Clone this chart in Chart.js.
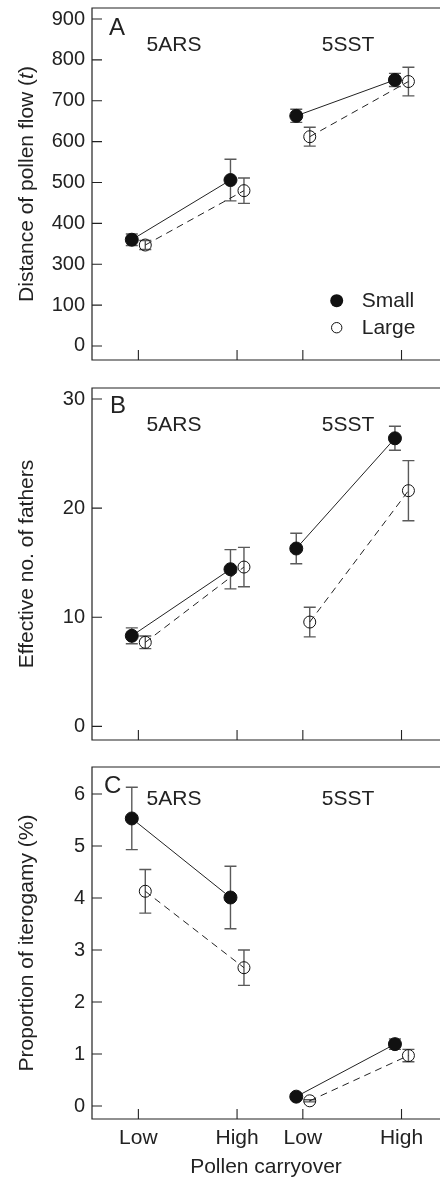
<!DOCTYPE html>
<html><head><meta charset="utf-8">
<script src="https://cdn.jsdelivr.net/npm/chart.js@4"></script>
<style>
html,body{margin:0;padding:0;background:#fff;overflow:hidden;width:440px;height:1178px}
canvas{position:absolute;left:0;display:block}
</style></head><body>
<canvas id="cA" width="440" height="380" style="top:0"></canvas>
<canvas id="cB" width="440" height="380" style="top:380px"></canvas>
<canvas id="cC" width="440" height="419" style="top:759px"></canvas>
<script>
// ---------- data ----------
const categories = ['Low', 'High', 'Low', 'High'];
const categoryGroup = [0, 0, 1, 1];
const groupNames = ['5ARS', '5SST'];
const seriesNames = ['Small', 'Large'];
const xAxisTitle = 'Pollen carryover';

const distSmall = [360, 506, 663, 751];
const distSmallErr = [14, 51, 16, 16];
const distLarge = [347, 480, 612, 747];
const distLargeErr = [11, 31, 23, 35];
const distTicks = [100, 200, 300, 400, 500, 600, 700, 800, 900];
const distTickLabels = ['0', '100', '300', '400', '500', '600', '700', '800', '900'];

const fathersSmall = [8.3, 14.4, 16.3, 26.4];
const fathersSmallErr = [0.73, 1.8, 1.4, 1.1];
const fathersLarge = [7.7, 14.6, 9.56, 21.6];
const fathersLargeErr = [0.58, 1.8, 1.36, 2.75];
const fathersTicks = [0, 10, 20, 30];
const fathersTickLabels = ['0', '10', '20', '30'];

const iteroSmall = [5.53, 4.01, 0.18, 1.19];
const iteroSmallErr = [0.6, 0.6, 0.04, 0.1];
const iteroLarge = [4.13, 2.66, 0.10, 0.97];
const iteroLargeErr = [0.42, 0.34, 0.02, 0.12];
const iteroTicks = [0, 1, 2, 3, 4, 5, 6];
const iteroTickLabels = ['0', '1', '2', '3', '4', '5', '6'];

// ---------- layout / style ----------
const FONT = '"Liberation Sans", Arial, Helvetica, sans-serif';
const INK = '#222';
Chart.defaults.font.family = FONT;
const catX = [0, 3, 5, 8];          // category slots on the x axis
const offSmall = -0.2, offLarge = 0.21;

function buildPoints(vals, errs, off) {
  const pts = [], e = [];
  vals.forEach((v, i) => {
    if (i > 0 && categoryGroup[i] !== categoryGroup[i - 1]) {
      pts.push({x: (catX[i - 1] + catX[i]) / 2, y: null}); e.push(null);
    }
    pts.push({x: catX[i] + off, y: v}); e.push(errs[i]);
  });
  return {pts, e};
}

const errorBars = {
  id: 'errorBars',
  beforeDatasetsDraw(chart) {
    const ctx = chart.ctx, ys = chart.scales.y;
    ctx.save();
    ctx.strokeStyle = '#5a5a5a';
    ctx.lineWidth = 1.4;
    chart.data.datasets.forEach((ds, di) => {
      const meta = chart.getDatasetMeta(di);
      ds.errors.forEach((er, i) => {
        if (er == null) return;
        const el = meta.data[i];
        const v = ds.data[i].y;
        const yt = ys.getPixelForValue(v + er), yb = ys.getPixelForValue(v - er);
        const x = el.x, c = 6;
        ctx.beginPath();
        ctx.moveTo(x, yt); ctx.lineTo(x, yb);
        ctx.moveTo(x - c, yt); ctx.lineTo(x + c, yt);
        ctx.moveTo(x - c, yb); ctx.lineTo(x + c, yb);
        ctx.stroke();
      });
    });
    ctx.restore();
  }
};

const decor = {
  id: 'decor',
  afterDraw(chart, args, o) {
    const ctx = chart.ctx, a = chart.chartArea, xs = chart.scales.x, ys = chart.scales.y;
    ctx.save();
    // frame (top, left, bottom)
    ctx.strokeStyle = INK; ctx.lineWidth = 1.2;
    ctx.beginPath();
    ctx.moveTo(a.right + 2, a.top); ctx.lineTo(a.left, a.top);
    ctx.lineTo(a.left, a.bottom); ctx.lineTo(a.right + 2, a.bottom);
    ctx.stroke();
    // inward ticks
    ctx.lineWidth = 1.1;
    ctx.beginPath();
    o.yTicks.forEach(v => { const y = ys.getPixelForValue(v); ctx.moveTo(a.left, y); ctx.lineTo(a.left + 10, y); });
    catX.forEach(v => { const x = xs.getPixelForValue(v); ctx.moveTo(x, a.bottom); ctx.lineTo(x, a.bottom - 10); });
    ctx.stroke();
    ctx.fillStyle = INK;
    // panel letter
    ctx.font = '24px ' + FONT; ctx.textBaseline = 'middle'; ctx.textAlign = 'left';
    ctx.fillText(o.letter, a.left + o.letterDx, a.top + o.letterDy);
    // group labels
    ctx.font = '21px ' + FONT; ctx.textAlign = 'center';
    ctx.fillText(groupNames[0], a.left + 82, a.top + o.groupDy);
    ctx.fillText(groupNames[1], a.left + 256, a.top + o.groupDy);
    // y title with styled segments
    ctx.save();
    ctx.translate(27, (a.top + a.bottom) / 2);
    ctx.rotate(-Math.PI / 2);
    let total = 0;
    o.yTitle.forEach(s => { ctx.font = s[1] + ' 21px ' + FONT; total += ctx.measureText(s[0]).width; });
    let x = -total / 2;
    ctx.textAlign = 'left';
    o.yTitle.forEach(s => { ctx.font = s[1] + ' 21px ' + FONT; ctx.fillText(s[0], x, 0); x += ctx.measureText(s[0]).width; });
    ctx.restore();
    // legend
    if (o.legend) {
      ctx.fillStyle = '#111';
      ctx.beginPath(); ctx.arc(a.left + 244.7, a.top + 292.7, 6.5, 0, Math.PI * 2); ctx.fill();
      ctx.strokeStyle = '#111'; ctx.lineWidth = 1;
      ctx.beginPath(); ctx.arc(a.left + 244.7, a.top + 319.7, 5.2, 0, Math.PI * 2); ctx.stroke();
      ctx.fillStyle = INK; ctx.font = '21px ' + FONT; ctx.textAlign = 'left';
      ctx.fillText(seriesNames[0], a.left + 269.7, a.top + 293);
      ctx.fillText(seriesNames[1], a.left + 269.7, a.top + 320);
    }
    ctx.restore();
  }
};

function makeChart(id, cfg) {
  const s = buildPoints(cfg.small, cfg.smallErr, offSmall);
  const l = buildPoints(cfg.large, cfg.largeErr, offLarge);
  const isBottom = !!cfg.bottom;
  return new Chart(document.getElementById(id), {
    type: 'line',
    data: {
      datasets: [
        {label: seriesNames[1], data: l.pts, errors: l.e, borderColor: '#222', borderWidth: 1,
         borderDash: [7, 5], pointRadius: 6, pointBorderWidth: 1, pointBorderColor: '#111',
         pointBackgroundColor: 'rgba(0,0,0,0)', spanGaps: false, tension: 0, clip: false},
        {label: seriesNames[0], data: s.pts, errors: s.e, borderColor: '#222', borderWidth: 1,
         pointRadius: 6.5, pointBorderWidth: 1, pointBorderColor: '#111',
         pointBackgroundColor: '#111', spanGaps: false, tension: 0, clip: false}
      ]
    },
    options: {
      responsive: false, animation: false, events: [],
      layout: {autoPadding: false, padding: {top: 8, left: 0, right: 0, bottom: 0}},
      plugins: {
        legend: {display: false}, tooltip: {enabled: false},
        decor: {letter: cfg.letter, letterDx: cfg.letterDx, letterDy: cfg.letterDy, groupDy: cfg.groupDy,
                yTicks: cfg.ticks, yTitle: cfg.yTitle, legend: cfg.legend}
      },
      scales: {
        x: {
          type: 'linear', min: -1.41, max: 9.17,
          afterBuildTicks: sc => { sc.ticks = catX.map(v => ({value: v})); },
          ticks: {display: isBottom, callback: (v, i) => categories[i], color: INK,
                  font: {size: 21}, padding: 7, maxRotation: 0, autoSkip: false},
          grid: {display: false, drawTicks: false}, border: {display: false},
          title: {display: isBottom, text: xAxisTitle, color: INK, font: {size: 21, lineHeight: 1}, padding: 0},
          afterFit: sc => { sc.height = isBottom ? 59 : 20; sc.paddingLeft = 0; sc.paddingRight = 0; }
        },
        y: {
          type: 'linear', min: cfg.min, max: cfg.max,
          afterBuildTicks: sc => { sc.ticks = cfg.ticks.map(v => ({value: v})); },
          ticks: {callback: (v, i) => cfg.tickLabels[i], color: INK, font: {size: 20}, padding: 7},
          grid: {display: false, drawTicks: false}, border: {display: false},
          afterFit: sc => { sc.width = 92; sc.paddingTop = 0; sc.paddingBottom = 0; }
        }
      }
    },
    plugins: [errorBars, decor]
  });
}

makeChart('cA', {small: distSmall, smallErr: distSmallErr, large: distLarge, largeErr: distLargeErr,
  ticks: distTicks, tickLabels: distTickLabels, min: 65.7, max: 926.9,
  letter: 'A', letterDx: 17, letterDy: 20.5, groupDy: 37, legend: true,
  yTitle: [['Distance of pollen flow (', 'normal'], ['t', 'italic'], [')', 'normal']]});
makeChart('cB', {small: fathersSmall, smallErr: fathersSmallErr, large: fathersLarge, largeErr: fathersLargeErr,
  ticks: fathersTicks, tickLabels: fathersTickLabels, min: -1.25, max: 31.01,
  letter: 'B', letterDx: 18, letterDy: 18, groupDy: 37.5, legend: false,
  yTitle: [['Effective no. of fathers', 'normal']]});
makeChart('cC', {small: iteroSmall, smallErr: iteroSmallErr, large: iteroLarge, largeErr: iteroLargeErr,
  ticks: iteroTicks, tickLabels: iteroTickLabels, min: -0.25, max: 6.52, bottom: true,
  letter: 'C', letterDx: 12, letterDy: 19, groupDy: 32, legend: false,
  yTitle: [['Proportion of iterogamy (%)', 'normal']]});
</script>
</body></html>
